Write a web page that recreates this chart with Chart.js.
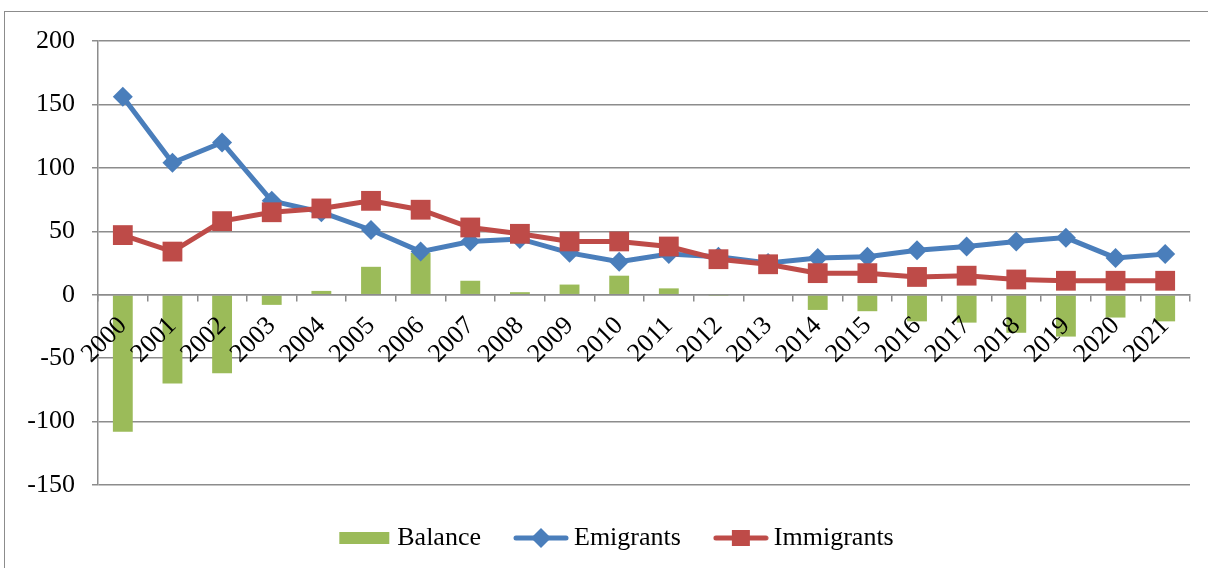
<!DOCTYPE html>
<html>
<head>
<meta charset="utf-8">
<script src="https://cdn.jsdelivr.net/npm/chart.js@4.4.1/dist/chart.umd.min.js"></script>
<style>
    html, body { margin: 0; padding: 0; background: #fff; overflow: hidden; }
    #frame { position: absolute; left: 4px; top: 11px; width: 1300px; height: 700px; border: 1px solid #8c8c8c; }
    #wrap { position: absolute; left: 0; top: 0; width: 1208px; height: 561px; }
</style>
</head>
<body>
<div id="frame"></div>
<div id="wrap"><canvas id="migration"></canvas></div>
<script>
//数据
var years = ["2000","2001","2002","2003","2004","2005","2006","2007","2008","2009","2010",
             "2011","2012","2013","2014","2015","2016","2017","2018","2019","2020","2021"];
var balance = [-108, -70, -62, -8, 3, 22, 33, 11, 2, 8, 15, 5, -1, 0, -12, -13, -21, -22, -30, -33, -18, -21];
var emigrants = [156, 104, 120, 74, 65, 51, 34, 42, 44, 33, 26, 32, 30, 25, 29, 30, 35, 38, 42, 45, 29, 32];
var immigrants = [47, 34, 58, 65, 68, 74, 67, 53, 48, 42, 42, 38, 28, 24, 17, 17, 14, 15, 12, 11, 11, 11];
var yTicks = [-150, -100, -50, 0, 50, 100, 150, 200];

var green = "#9BBB59";
var blue = "#4A7EBB";
var red = "#BE4B48";
var gridColor = "#8c8c8c";
var fontFamily = "'Liberation Serif', 'Times New Roman', serif";

/**
 * 画图例里的小图标
 */
function legendMark(kind, color) {
    var c = document.createElement("canvas");
    c.width = 56;
    c.height = 22;
    var g = c.getContext("2d");
    g.fillStyle = color;
    g.strokeStyle = color;
    if (kind === "bar") {
        g.fillRect(3, 5, 50, 12);
        return c;
    }
    g.lineWidth = 5;
    g.lineCap = "round";
    g.beginPath();
    g.moveTo(3, 11);
    g.lineTo(53, 11);
    g.stroke();
    if (kind === "diamond") {
        g.beginPath();
        g.moveTo(28, 1);
        g.lineTo(38, 11);
        g.lineTo(28, 21);
        g.lineTo(18, 11);
        g.closePath();
        g.fill();
    } else {
        g.fillRect(19, 3, 18, 16);
    }
    return c;
}

var marks = [legendMark("bar", green), legendMark("diamond", blue), legendMark("square", red)];

//图例往右挪一点：左边留白，但y轴的刻度文字不被裁掉
var legendShift = 48;
var fixAxisPlugin = {
    id: "fixAxis",
    afterLayout: function (c) {
        c.scales.y.left = 0;
    }
};

var ctx = document.getElementById("migration").getContext("2d");

var chart = new Chart(ctx, {
    type: "bar",
    data: {
        labels: years,
        datasets: [{
            type: "bar",
            label: "Balance",
            data: balance,
            backgroundColor: green,
            categoryPercentage: 0.8,
            barPercentage: 0.5,
            order: 3
        }, {
            type: "line",
            label: "Emigrants",
            data: emigrants,
            borderColor: blue,
            backgroundColor: blue,
            borderWidth: 5,
            pointStyle: "rectRot",
            pointRadius: 10,
            pointBorderWidth: 0,
            tension: 0,
            order: 2
        }, {
            type: "line",
            label: "Immigrants",
            data: immigrants,
            borderColor: red,
            backgroundColor: red,
            borderWidth: 5,
            pointStyle: "rect",
            pointRadius: 14,
            pointBorderWidth: 0,
            tension: 0,
            order: 1
        }]
    },
    plugins: [fixAxisPlugin],
    options: {
        responsive: true,
        maintainAspectRatio: false,
        animation: false,
        layout: { padding: { top: 41, right: 18, left: legendShift, bottom: 0 } },
        plugins: {
            tooltip: { enabled: false },
            legend: {
                position: "bottom",
                labels: {
                    color: "#000",
                    font: { family: fontFamily, size: 26 },
                    usePointStyle: true,
                    pointStyleWidth: 40,
                    padding: 40,
                    generateLabels: function (c) {
                        return c.data.datasets.map(function (ds, i) {
                            return {
                                text: ds.label,
                                pointStyle: marks[i],
                                fillStyle: "transparent",
                                strokeStyle: "transparent",
                                lineWidth: 0,
                                datasetIndex: i,
                                hidden: false
                            };
                        });
                    }
                }
            }
        },
        scales: {
            x: {
                position: { y: 0 },
                offset: true,
                grid: {
                    offset: true,
                    drawOnChartArea: false,
                    drawTicks: true,
                    tickLength: 6,
                    color: gridColor,
                    lineWidth: 1.5,
                    z: 1
                },
                border: { display: true, color: gridColor, width: 1.5, z: 1 },
                ticks: {
                    autoSkip: false,
                    minRotation: 45,
                    maxRotation: 45,
                    padding: 10,
                    color: "#000",
                    font: { family: fontFamily, size: 26 },
                    z: 1
                }
            },
            y: {
                min: -150,
                max: 200,
                afterBuildTicks: function (axis) {
                    axis.ticks = yTicks.map(function (v) { return { value: v }; });
                },
                afterFit: function (axis) { axis.width = 98 - legendShift; },
                grid: {
                    color: gridColor,
                    lineWidth: 1.5,
                    tickLength: 6
                },
                border: { display: true, color: gridColor, width: 1.5 },
                ticks: {
                    padding: 17,
                    color: "#000",
                    font: { family: fontFamily, size: 26 }
                }
            }
        }
    }
});
</script>
</body>
</html>
